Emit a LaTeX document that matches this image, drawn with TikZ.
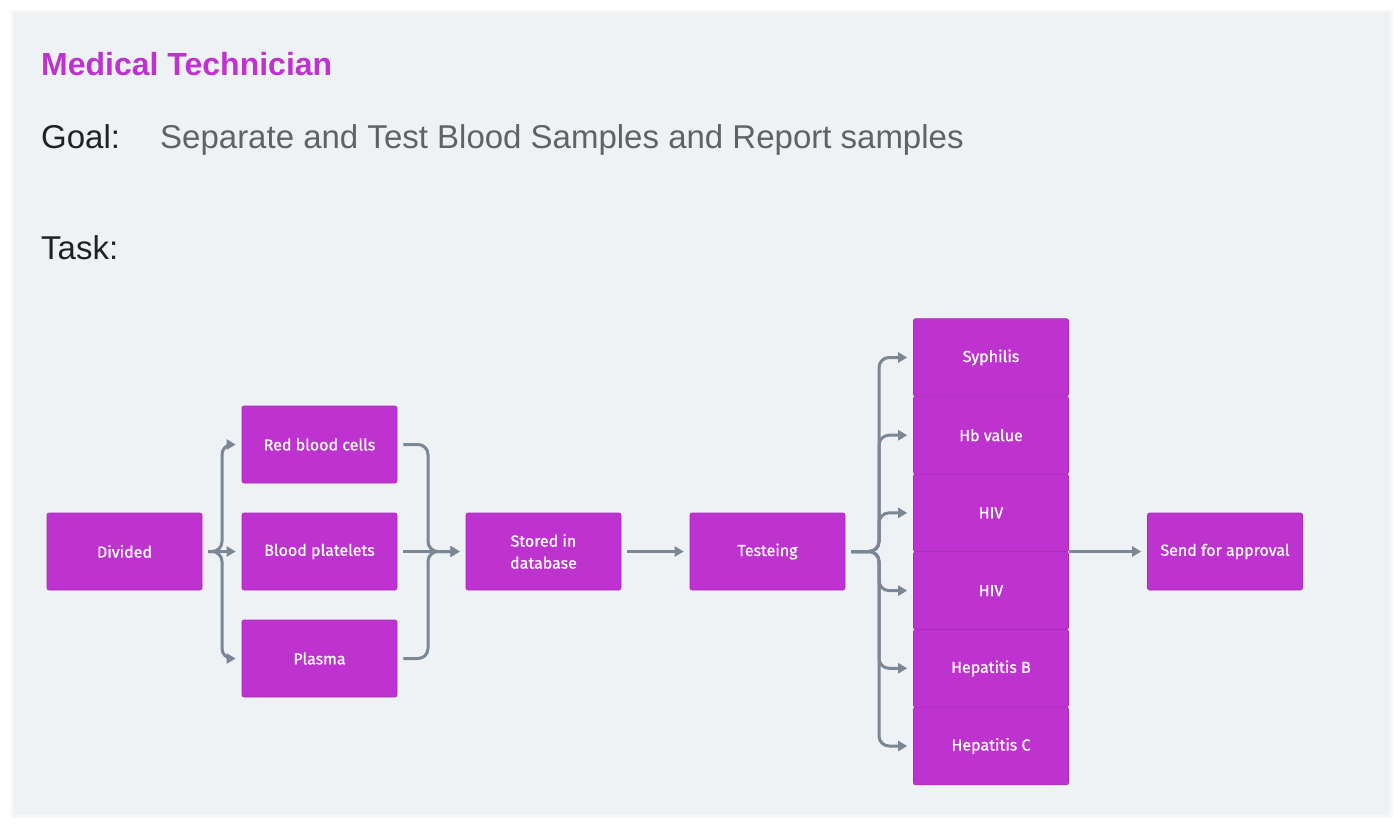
\documentclass[tikz,border=0pt]{standalone}
\usepackage{fontspec}
\setmainfont{Liberation Sans}
\newfontfamily\boxfont{Fira Sans}[FakeBold=0.7]
\usetikzlibrary{arrows.meta}
\definecolor{panelbg}{HTML}{EFF2F5}
\definecolor{techmag}{HTML}{BE33CF}
\definecolor{flowgray}{HTML}{7B8794}
\definecolor{goalgray}{HTML}{5F6368}
\definecolor{inkdark}{HTML}{202124}
\tikzset{
  taskbox/.style={fill=techmag, draw=techmag!88!black, line width=0.6pt,
    rounded corners=2pt, minimum width=155pt, minimum height=77pt,
    inner sep=0pt, align=center, text=white,
    font=\boxfont\fontsize{16}{22}\selectfont},
  flow/.style={draw=flowgray, line width=3pt, rounded corners=10pt,
    -{Triangle[length=9pt,width=10pt]}, shorten <=6pt, shorten >=6pt},
  heading/.style={anchor=base west, inner sep=0pt}
}
\begin{document}
\begin{tikzpicture}[x=1pt,y=-1pt]
    \useasboundingbox (0,0) rectangle (1400,828);
    % panel
    \fill[white] (0,0) rectangle (1400,828);
    \fill[black!3] (11,10) rectangle (1393,818);
    \fill[panelbg] (14,13) rectangle (1390,815);
    % headings
    \node[heading, text=techmag, font=\bfseries\fontsize{32}{38}\selectfont]
      (title) at (41,75) {Medical Technician};
    \node[heading, text=inkdark, font=\fontsize{33}{40}\selectfont]
      (goal) at (41,148) {Goal:};
    \node[heading, text=goalgray, font=\fontsize{33}{40}\selectfont]
      (goaltext) at (160,148) {Separate and Test Blood Samples and Report samples};
    \node[heading, text=inkdark, font=\fontsize{33}{40}\selectfont]
      (task) at (41,259) {Task:};
    % boxes
    \node[taskbox] (divided)   at (124.5,551.5) {Divided};
    \node[taskbox] (redcells)  at (319.5,444.5) {Red blood cells};
    \node[taskbox] (platelets) at (319.5,551.5) {Blood platelets};
    \node[taskbox] (plasma)    at (319.5,658.5) {Plasma};
    \node[taskbox] (stored)    at (543.5,551.5) {Stored in\\database};
    \node[taskbox] (testing)   at (767.5,551.5) {Testeing};
    \node[taskbox, minimum height=77.7pt] (syphilis) at (991,357.5) {Syphilis};
    \node[taskbox, minimum height=77.7pt] (hb)       at (991,435.2) {Hb value};
    \node[taskbox, minimum height=77.7pt] (hiva)     at (991,512.9) {HIV};
    \node[taskbox, minimum height=77.7pt] (hivb)     at (991,590.6) {HIV};
    \node[taskbox, minimum height=77.7pt] (hepb)     at (991,668.3) {Hepatitis B};
    \node[taskbox, minimum height=77.7pt] (hepc)     at (991,746.0) {Hepatitis C};
    \node[taskbox] (approval)  at (1225,551.5) {Send for approval};
    % junctions
    \coordinate (fork) at (222,551.5);
    \coordinate (merge) at (428,551.5);
    \coordinate (branch) at (879,551.5);
    % connectors
    \draw[flow] (divided.east) -- (fork) |- (redcells.west);
    \draw[flow] (divided.east) -- (platelets.west);
    \draw[flow] (divided.east) -- (fork) |- (plasma.west);
    \draw[flow] (redcells.east) -| (merge) -- (stored.west);
    \draw[flow] (platelets.east) -- (stored.west);
    \draw[flow] (plasma.east) -| (merge) -- (stored.west);
    \draw[flow] (stored.east) -- (testing.west);
    \foreach \t in {syphilis,hb,hiva,hivb,hepb,hepc}
      \draw[flow] (testing.east) -- (branch) |- (\t.west);
    \draw[flow, shorten <=0pt] (approval.west -| hiva.east) -- (approval.west);
\end{tikzpicture}
\end{document}
